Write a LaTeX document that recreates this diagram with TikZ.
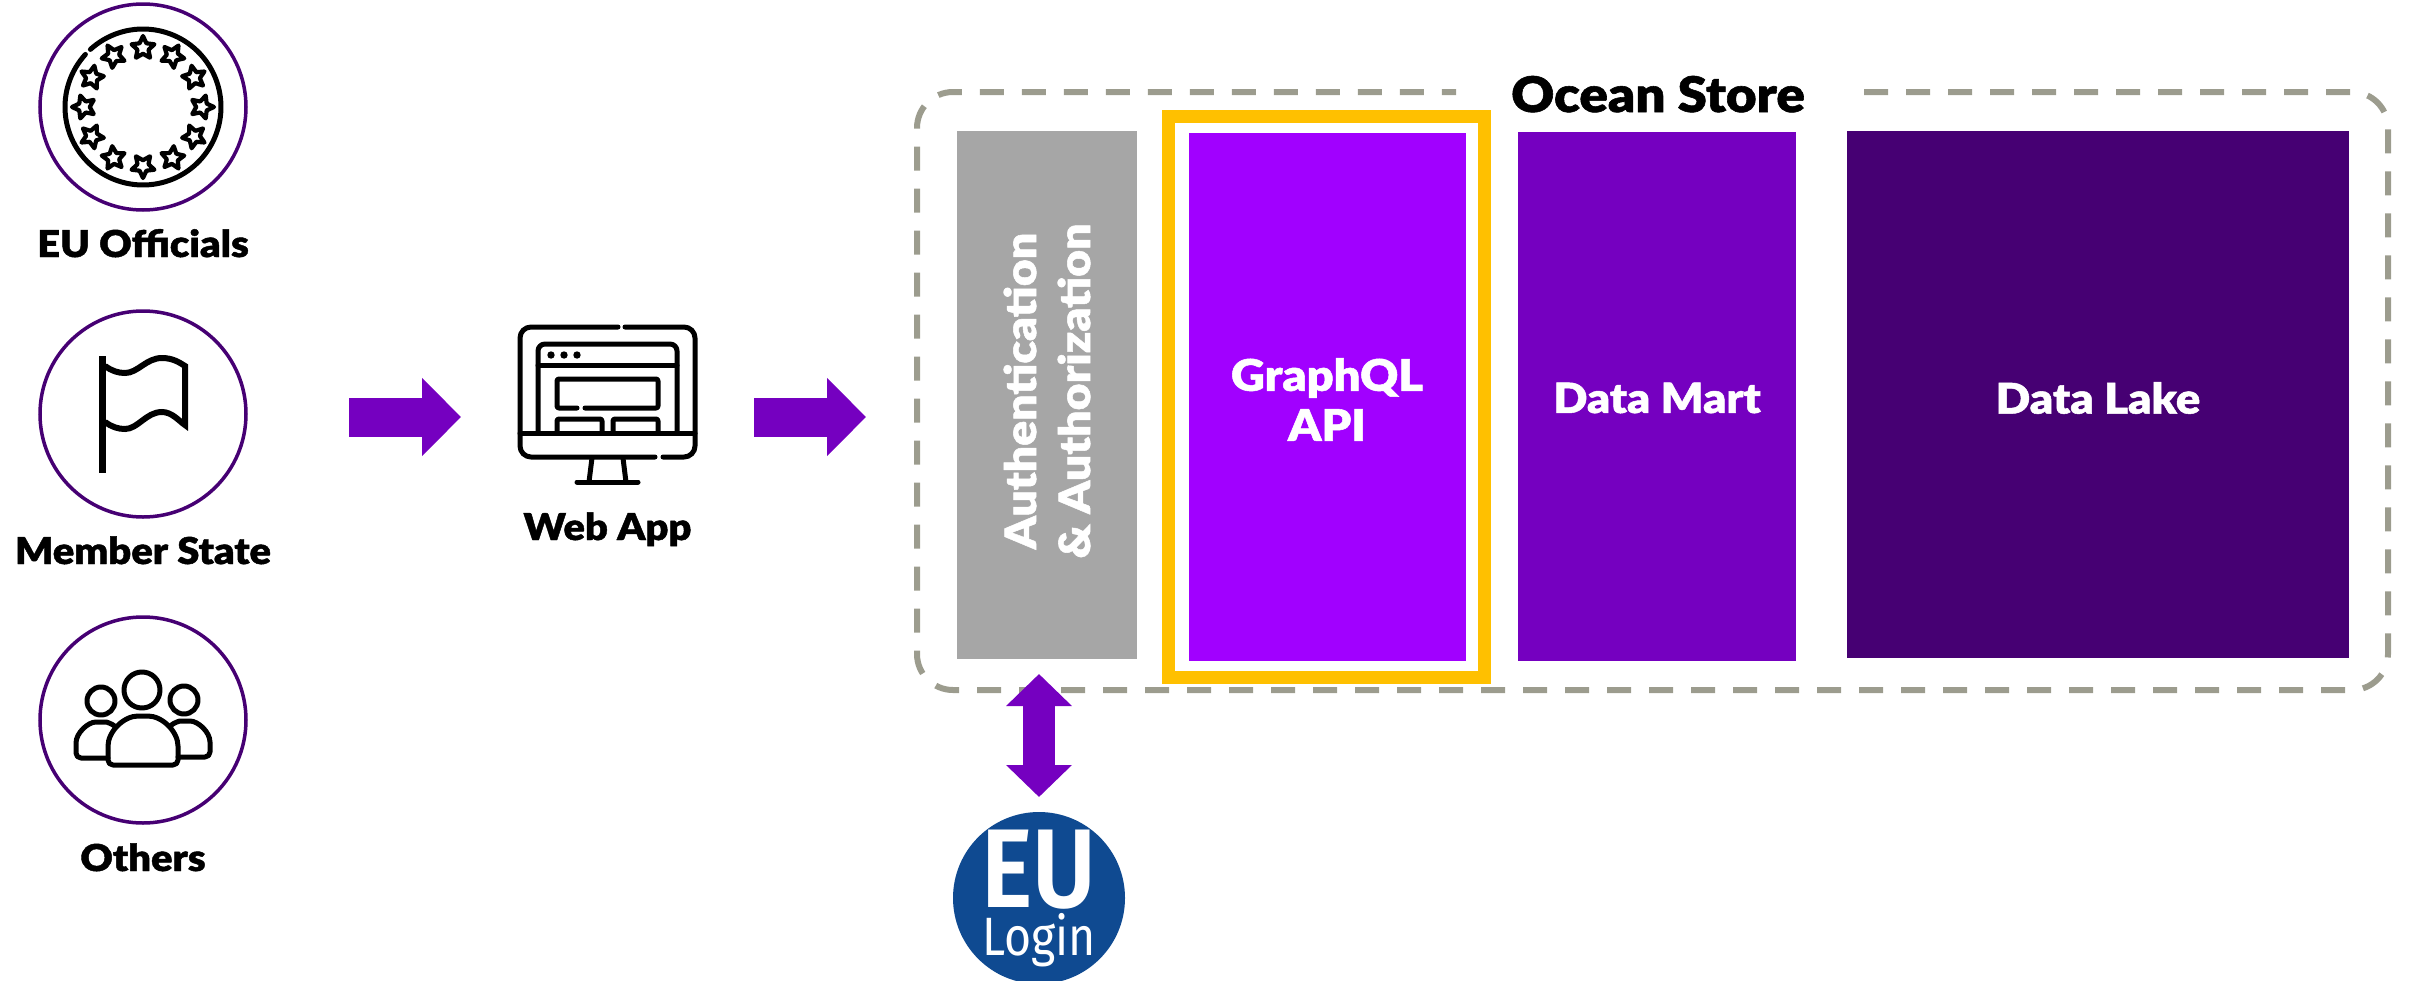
\documentclass[tikz,border=0pt]{standalone}
\usepackage{fontspec}
\usetikzlibrary{arrows.meta}
\newfontfamily\labfont{Lato Black}[FakeBold=1.2,FakeStretch=1.08]
\newfontfamily\logofont{Fira Sans}[FakeStretch=0.86]
\newfontfamily\logobold{Fira Sans SemiBold}[FakeStretch=0.87]
\definecolor{deep}{HTML}{460073}
\definecolor{mid}{HTML}{7500C0}
\definecolor{bright}{HTML}{A100FF}
\definecolor{greybox}{HTML}{A6A6A6}
\definecolor{dashgrey}{HTML}{9C9C8E}
\definecolor{gold}{HTML}{FFC000}
\definecolor{eublue}{HTML}{0F4A91}
\tikzset{
  x=1pt,y=-1pt,
  usercircle/.style={circle,draw=deep,line width=3.5pt,minimum size=206pt,inner sep=0pt,outer sep=0pt},
  icon/.style={draw=black,line width=5pt,line cap=round,line join=round},
  starshape/.style={draw=black,line width=4.2pt,line join=round},
  lab/.style={font=\labfont\fontsize{37}{37}\selectfont,text=black,inner sep=0pt,anchor=base},
  blocklab/.style={font=\labfont\fontsize{42}{50}\selectfont,text=white,align=center,inner sep=0pt},
  block/.style={inner sep=0pt,outer sep=0pt,draw=none},
  bigarrow/.style={draw=mid,line width=39pt,-{Triangle[length=39pt,width=76pt]}},
  bothway/.style={draw=mid,line width=32pt,{Triangle[length=32pt,width=64pt]}-{Triangle[length=32pt,width=64pt]}},
}
\begin{document}
\begin{tikzpicture}
\useasboundingbox (0,0) rectangle (2412,980);
\clip (0,0) rectangle (2412,980);
% user circles
\node[usercircle] (officials) at (143,107) {};
\node[usercircle] (member) at (143,414) {};
\node[usercircle] (others) at (143,720) {};
\node[lab] (officialstxt) at (143,257) {EU Officials};
\node[lab] (membertxt) at (143,564) {Member State};
\node[lab] (otherstxt) at (143,871) {Others};
% EU ring
\draw[icon,line cap=round] plot[domain=-132.4:222.4,samples=120,smooth] ({143+78*cos(\x)},{107+78*sin(\x)});
\foreach \a in {0,30,...,330}{
  \begin{scope}[shift={(143,107)}]
  \begin{scope}[shift={(\a:59)}]
  \draw[starshape] ({\a}:12) -- ({\a+36}:5.8) -- ({\a+72}:12) -- ({\a+108}:5.8) -- ({\a+144}:12) -- ({\a+180}:5.8) -- ({\a+216}:12) -- ({\a+252}:5.8) -- ({\a+288}:12) -- ({\a+324}:5.8) -- cycle;
  \end{scope}
  \end{scope}
}
% flag
\draw[black,line width=7pt] (102,356) -- (102,473);
\draw[black,line width=6pt,line join=miter] (105,366) .. controls (112,371) and (118,373) .. (125,373) .. controls (138,373) and (146,358) .. (162,358) .. controls (172,358) and (179,362) .. (185,366) -- (185,425) .. controls (179,421) and (172,412) .. (162,412) .. controls (146,412) and (138,429) .. (125,429) .. controls (118,429) and (112,427) .. (105,422);
% people
\draw[icon] (142,690) circle[radius=18];
\draw[icon] (101,701) circle[radius=14];
\draw[icon] (184,700) circle[radius=14];
\draw[icon,rounded corners=5pt] (108,751) .. controls (108,731.7) and (123.7,716) .. (143,716) .. controls (162.3,716) and (178,731.7) .. (178,751) -- (178,765) -- (108,765) -- cycle;
\draw[icon,rounded corners=5pt] (108,758) -- (76,758) -- (76,748) .. controls (76,733) and (88,722) .. (101,722) .. controls (106,722) and (111,723) .. (116,727);
\draw[icon,rounded corners=5pt] (178,757) -- (210,757) -- (210,747) .. controls (210,732) and (198,721) .. (185,721) .. controls (180,721) and (175,722) .. (170,726);
% web app icon
\draw[icon,rounded corners=11pt] (618,327) -- (520,327) -- (520,457) -- (655,457);
\draw[icon,rounded corners=11pt] (625,327) -- (695,327) -- (695,457) -- (663,457);
\draw[icon] (520,433) -- (695,433);
\draw[icon,rounded corners=7pt] (538,433) -- (538,344) -- (677,344) -- (677,433);
\draw[icon] (538,365) -- (677,365);
\foreach \dx in {551,564,577}{\fill[black] (\dx,355) circle[radius=3.7];}
\draw[icon,rounded corners=2pt] (577,408) -- (557,408) -- (557,379) -- (658,379) -- (658,408) -- (585,408);
\draw[icon,rounded corners=2pt] (557,433) -- (557,419) -- (602,419) -- (602,433);
\draw[icon,rounded corners=2pt] (613,433) -- (613,419) -- (658,419) -- (658,433);
\draw[icon] (592,458) -- (589,482);
\draw[icon] (623,458) -- (626,482);
\draw[icon] (577,482) -- (638,482);
\node[lab] (webtxt) at (607.5,540) {Web App};
% ocean store frame
\draw[dashgrey,line width=6pt,dash pattern=on 24pt off 18pt,rounded corners=36pt] (1864,92) -- (2388,92) -- (2388,690) -- (917,690) -- (917,92) -- (1456,92);
\node[font=\labfont\fontsize{49}{49}\selectfont,inner sep=0pt,anchor=base] (oceantxt) at (1658,112) {Ocean Store};
% blocks
\node[block,fill=greybox,minimum width=180pt,minimum height=528pt] (auth) at (1047,395) {};
\node[blocklab,font=\labfont\fontsize{43}{54}\selectfont,rotate=90] (authtxt) at (1047,391) {Authentication\\\& Authorization};
\draw[gold,line width=13pt] (1168.5,116.5) rectangle (1484.5,677.5);
\node[block,fill=bright,minimum width=277pt,minimum height=528pt] (graphql) at (1327.5,397) {};
\node[blocklab,font=\labfont\fontsize{43.5}{50}\selectfont] (graphqltxt) at (1327,399.5) {GraphQL\\API};
\node[block,fill=mid,minimum width=278pt,minimum height=529pt] (mart) at (1657,396.5) {};
\node[blocklab,font=\labfont\fontsize{41.5}{50}\selectfont] (marttxt) at (1657,398) {Data Mart};
\node[block,fill=deep,minimum width=502pt,minimum height=527pt] (lake) at (2098,394.5) {};
\node[blocklab] (laketxt) at (2098,398) {Data Lake};
% EU login
\node[circle,fill=eublue,minimum size=172pt,inner sep=0pt,outer sep=0pt] (login) at (1039,898) {};
\node[font=\logobold\fontsize{112}{112}\selectfont,text=white,inner sep=0pt,anchor=base] (eutxt) at (1039,907) {EU};
\node[font=\logofont\fontsize{54}{54}\selectfont,text=white,inner sep=0pt,anchor=base] (logintxt) at (1039,955) {Login};
% connectors
\coordinate (a1s) at (349,417);
\coordinate (a1e) at (461,417);
\coordinate (a2s) at (754,417);
\coordinate (a2e) at (866,417);
\coordinate (a3s) at (1039,674);
\coordinate (a3e) at (1039,797);
\draw[bigarrow] (a1s) -- (a1e);
\draw[bigarrow] (a2s) -- (a2e);
\draw[bothway] (a3s) -- (a3e);
\end{tikzpicture}
\end{document}
